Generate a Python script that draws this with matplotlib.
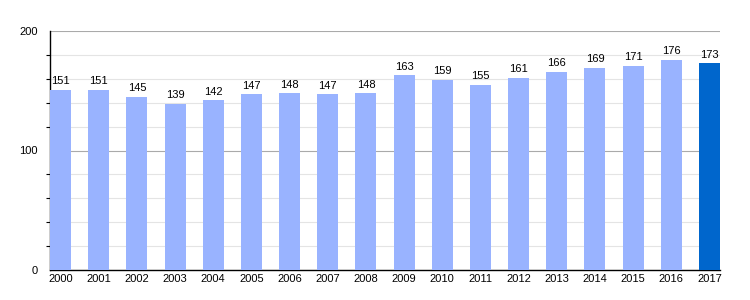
import matplotlib.pyplot as plt
from matplotlib.ticker import MultipleLocator

plt.rcParams["font.family"] = ["Liberation Sans", "DejaVu Sans"]

years = [str(y) for y in range(2000, 2018)]
values = [151, 151, 145, 139, 142, 147, 148, 147, 148, 163, 159, 155, 161, 166, 169, 171, 176, 173]
colors = ["#99b3ff"] * (len(values) - 1) + ["#0066cc"]

fig = plt.figure(figsize=(7.5, 3), dpi=100)
ax = fig.add_axes([50 / 750, 30 / 300, 670 / 750, 239 / 300])

x = list(range(len(values)))
ax.bar(x, values, width=0.55, color=colors, zorder=3)
for xi, v in zip(x, values):
    ax.text(xi, v + 3, str(v), ha="center", va="bottom", fontsize=8, zorder=4)

ax.set_xlim(-0.275, len(values) - 0.725)
ax.set_ylim(0, 200)
ax.set_xticks(x)
ax.set_xticklabels(years, fontsize=8)
ax.yaxis.set_major_locator(MultipleLocator(100))
ax.yaxis.set_minor_locator(MultipleLocator(20))
ax.tick_params(axis="y", labelsize=8, length=0, pad=9)
ax.tick_params(axis="y", which="minor", length=3, width=0.8, direction="out")
ax.tick_params(axis="x", length=0, pad=3)
ax.grid(axis="y", which="major", color="#aaaaaa", linewidth=0.8, zorder=0)
ax.grid(axis="y", which="minor", color="#e4e4e4", linewidth=0.8, zorder=0)
for s in ["top", "right"]:
    ax.spines[s].set_visible(False)
ax.spines["left"].set_linewidth(1)
ax.spines["bottom"].set_linewidth(1)

fig.savefig("out.png", dpi=100)
